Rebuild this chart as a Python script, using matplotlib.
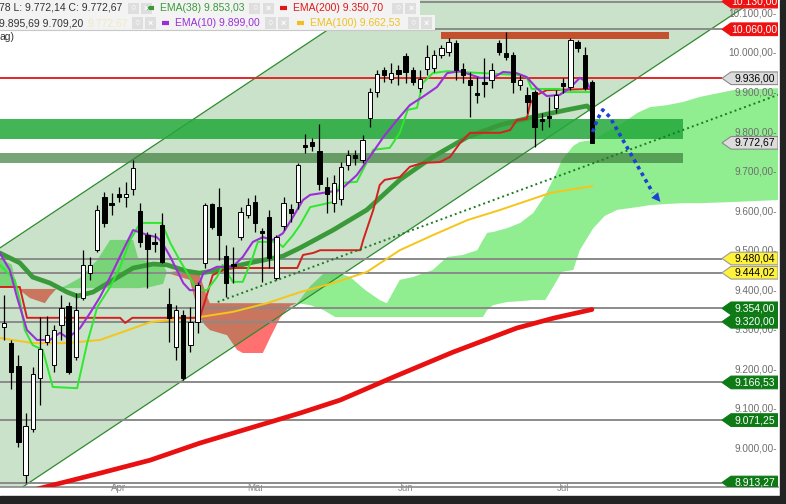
import numpy as np
import matplotlib
matplotlib.use("Agg")
import matplotlib.pyplot as plt
from matplotlib.patches import Rectangle, Polygon
from matplotlib.transforms import blended_transform_factory

plt.rcParams['font.family'] = ['Liberation Sans', 'DejaVu Sans']

# ---- daily candles, bar index 0..82 ----
opens = [9307, 9266, 9208, 8932, 9049, 9178, 9269, 9211, 9312, 9360,
         9231, 9380, 9443, 9501, 9636, 9620, 9643, 9636, 9656, 9600,
         9539, 9520, 9565, 9365, 9256, 9337, 9261, 9319, 9469, 9618,
         9610, 9486, 9466, 9534, 9590, 9623, 9550, 9585, 9431, 9562,
         9605, 9623, 9767, 9775, 9752, 9661, 9620, 9631, 9717, 9742,
         9729, 9836, 9901, 9957, 9934, 9957, 9992, 9957, 9911, 9959,
         9962, 9995, 10003, 10025, 9959, 9932, 9899, 9927, 9932, 10025,
         10000, 9995, 9919, 9894, 9901, 9833, 9840, 9861, 9924, 9914,
         10028, 9995, 9927]
highs = [9388, 9274, 9236, 9089, 9205, 9332, 9334, 9312, 9388, 9370,
         9393, 9501, 9484, 9615, 9648, 9646, 9661, 9674, 9729, 9620,
         9547, 9544, 9595, 9405, 9362, 9350, 9357, 9421, 9620, 9620,
         9658, 9514, 9509, 9610, 9633, 9641, 9557, 9603, 9539, 9636,
         9618, 9722, 9795, 9785, 9820, 9686, 9691, 9724, 9754, 9754,
         9793, 9911, 9957, 9964, 9975, 9970, 10000, 9964, 9957, 10020,
         10008, 10020, 10038, 10033, 9975, 9952, 9939, 9987, 9975, 10033,
         10053, 10002, 9944, 9914, 9906, 9848, 9889, 9906, 9937, 10038,
         10033, 10015, 9932]
lows = [9274, 9150, 9003, 8913.27, 9041, 9109, 9261, 9193, 9274, 9188,
        9223, 9375, 9426, 9496, 9560, 9590, 9623, 9610, 9641, 9509,
        9405, 9496, 9469, 9269, 9223, 9173, 9243, 9291, 9456, 9555,
        9476, 9383, 9418, 9527, 9582, 9547, 9421, 9456, 9426, 9552,
        9572, 9605, 9747, 9752, 9653, 9595, 9598, 9615, 9704, 9717,
        9722, 9813, 9889, 9927, 9924, 9919, 9924, 9919, 9901, 9944,
        9952, 9987, 9992, 9932, 9924, 9838, 9873, 9889, 9911, 9995,
        9982, 9899, 9906, 9848, 9762, 9805, 9813, 9848, 9899, 9906,
        10002, 9906, 9772.14]
closes = [9317, 9193, 9016, 9056, 9188, 9251, 9286, 9299, 9355, 9193,
          9350, 9464, 9464, 9603, 9570, 9615, 9636, 9643, 9709, 9522,
          9504, 9518, 9471, 9329, 9350, 9178, 9319, 9413, 9615, 9560,
          9539, 9418, 9461, 9598, 9615, 9570, 9544, 9481, 9534, 9620,
          9595, 9717, 9762, 9765, 9668, 9643, 9671, 9711, 9742, 9734,
          9780, 9901, 9947, 9944, 9949, 9947, 9952, 9927, 9934, 9990,
          9995, 10013, 10028, 9957, 9944, 9919, 9894, 9921, 9957, 10003,
          9990, 9927, 9932, 9876, 9813, 9828, 9835, 9894, 9916, 10033,
          10013, 9911, 9772.67]

month_idx = [16, 35, 56, 78]
month_names = ['Apr', 'Mai', 'Jun', 'Jul']

# ---- indicators (vertices at bar index) ----
ema10_idx = [-0.6, 0.8, 1.8, 3.2, 4.6, 6.4, 7.8, 8.9, 10.6, 12.0, 13.4, 14.8, 16.6, 18.0,
             20.1, 21.3, 22.0, 23.2, 24.1, 25.0, 25.9, 26.9, 27.8, 29.7, 31.9, 33.3, 34.7,
             36.1, 37.5, 38.9, 40.3, 41.7, 42.7, 44.5, 46.9, 49.2, 51.0, 52.9, 54.8, 56.6,
             58.4, 60.4, 61.8, 63.6, 66.4, 68.2, 69.6, 71.5, 72.9, 74.3, 75.7, 77.5, 78.9,
             80.3, 81.3, 82.0]
ema10_val = [9494, 9451, 9383, 9299, 9274, 9274, 9292, 9279, 9304, 9342, 9383, 9433, 9501,
             9552, 9539, 9534, 9522, 9484, 9451, 9418, 9400, 9400, 9443, 9459, 9459, 9484,
             9522, 9534, 9527, 9544, 9585, 9628, 9641, 9646, 9653, 9691, 9737, 9787, 9830,
             9868, 9889, 9914, 9949, 9954, 9937, 9937, 9952, 9949, 9939, 9911, 9891, 9894,
             9911, 9937, 9927, 9899]

ema38_idx = [-0.6, 2.2, 4.0, 6.4, 8.8, 10.2, 12.4, 14.8, 18.0, 20.8, 22.7, 25.5, 27.3, 30.1,
             34.3, 38.9, 41.3, 45.9, 50.6, 55.2, 59.8, 64.6, 69.2, 73.8, 78.5, 81.3, 82.0]
ema38_val = [9494, 9469, 9433, 9418, 9395, 9385, 9395, 9421, 9456, 9466, 9464, 9448, 9443,
             9451, 9469, 9486, 9507, 9552, 9603, 9679, 9737, 9787, 9818, 9838, 9856, 9866, 9855]

ema100_idx = [-0.6, 4.0, 8.8, 13.4, 20.4, 27.3, 31.9, 36.7, 41.3, 45.9, 50.6, 55.2, 59.8,
              64.6, 69.2, 76.2, 82.0]
ema100_val = [9279, 9266, 9266, 9274, 9319, 9332, 9345, 9367, 9395, 9418, 9446, 9501, 9539,
              9577, 9603, 9646, 9663]

ema200_idx = [-0.6, 4.0, 13.4, 20.4, 27.3, 34.3, 41.3, 46.9, 54.3, 62.6, 71.5, 76.6, 82.0]
ema200_val = [8889, 8894, 8937, 8970, 9013, 9051, 9089, 9122, 9180, 9243, 9304, 9329, 9351]

tenkan_idx = [-0.6, 1.5, 2.2, 2.9, 4.0, 5.4, 6.8, 10.2, 11.6, 13.0, 14.8, 16.2, 17.6, 19.0,
              22.0, 23.2, 24.5, 25.9, 26.9, 28.3, 29.7, 30.5, 31.9, 33.3, 34.7, 35.4, 38.1,
              38.9, 40.3, 41.3, 42.7, 45.9, 46.9, 49.2, 51.5, 53.8, 55.2, 56.3, 57.6, 58.4,
              59.8, 61.8, 63.6, 72.0, 72.9, 73.6, 77.5, 78.2, 82.0]
tenkan_val = [9464, 9426, 9375, 9299, 9261, 9249, 9155, 9152, 9266, 9357, 9408, 9459, 9527,
              9570, 9570, 9519, 9476, 9433, 9400, 9400, 9433, 9464, 9421, 9421, 9484, 9522,
              9522, 9509, 9539, 9565, 9610, 9623, 9671, 9674, 9755, 9760, 9798, 9856, 9861,
              9924, 9949, 9954, 9952, 9944, 9939, 9909, 9909, 9901, 9901]

kijun_idx = [-0.6, 2.2, 3.2, 16.2, 16.9, 17.9, 27.3, 28.3, 29.1, 31.1, 40.9, 41.7, 43.1, 44.1,
             49.7, 50.1, 51.5, 52.4, 53.1, 55.2, 56.6, 58.4, 60.8, 62.2, 63.6, 65.0, 69.2,
             70.6, 71.5, 72.9, 73.4, 74.3, 75.7, 82.0]
kijun_val = [9408, 9408, 9330, 9330, 9317, 9330, 9330, 9388, 9438, 9456, 9456, 9489, 9494,
             9501, 9501, 9527, 9603, 9666, 9679, 9686, 9712, 9722, 9724, 9737, 9772, 9798,
             9798, 9805, 9830, 9833, 9873, 9894, 9906, 9909]

cloud_idx = [-0.6, 1.1, 1.8, 2.2, 3.6, 5.7, 6.4, 7.3, 8.5, 10.6, 13.0, 14.8, 18.0, 18.7,
             20.4, 22.2, 22.7, 23.2, 25.9, 27.3, 28.0, 28.7, 31.1, 32.5, 33.3, 36.1, 37.1,
             38.5, 39.9, 40.9, 42.7, 44.5, 46.2, 48.3, 50.4, 52.4, 53.4, 55.2, 57.0, 59.8,
             61.8, 64.0, 66.0, 66.8, 67.4, 68.2, 70.2, 72.0, 73.8, 75.5, 76.9, 77.8, 79.4,
             80.3, 82.2, 83.8, 85.5, 88.3, 90.1, 92.5, 94.7, 97.1, 101.7, 108.0]
span_a = [9481, 9464, 9405, 9400, 9380, 9367, 9385, 9403, 9410, 9431, 9476, 9527, 9527, 9481,
          9471, 9464, 9446, 9441, 9426, 9330, 9312, 9299, 9286, 9249, 9241, 9241, 9279, 9330,
          9360, 9367, 9410, 9441, 9446, 9433, 9400, 9375, 9367, 9426, 9433, 9451, 9484, 9489,
          9501, 9527, 9545, 9547, 9557, 9570, 9595, 9641, 9691, 9729, 9765, 9775, 9780, 9798,
          9813, 9848, 9863, 9868, 9876, 9889, 9906, 9911]
span_b = [9408, 9408, 9405, 9403, 9403, 9403, 9403, 9403, 9405, 9405, 9405, 9405, 9405, 9405,
          9408, 9416, 9446, 9446, 9451, 9438, 9400, 9367, 9367, 9367, 9367, 9367, 9367, 9367,
          9367, 9367, 9362, 9350, 9332, 9332, 9332, 9332, 9332, 9332, 9332, 9332, 9332, 9332,
          9332, 9332, 9350, 9362, 9370, 9372, 9375, 9375, 9418, 9446, 9451, 9501, 9557, 9588,
          9603, 9610, 9615, 9618, 9620, 9620, 9623, 9628]

# ---- drawings ----
chan_idx = [-0.56, 107.95]
chan_up = [9507, 10816]
chan_low = [8864, 10173]
trend_idx = [29.8, 107.95]
trend_val = [9370, 9894]
arrow_idx = [82.1, 82.7, 83.5, 84.5, 90.5]
arrow_val = [9800, 9830, 9856, 9838, 9646]
arrow_tip = (91.8, 9618)
green_band = (9782, 9833)
gray_band = (9722, 9747)
band_end = 94.7
resist_bar = (10035, 10053)
resist_idx = (61.0, 92.8)

line_levels = [10130.0, 10060.0, 9480.04, 9444.02, 9354.0, 9320.0, 9166.53, 9071.25, 8913.27]
red_level = 9936.0
lab_levels = [10130.0, 10060.0, 9936.0, 9772.67, 9480.04, 9444.02, 9354.0, 9320.0,
              9166.53, 9071.25, 8913.27]
lab_kinds = ['red', 'red', 'gray', 'gray', 'yellow', 'yellow', 'green', 'green',
             'green', 'green', 'green']
tick_levels = list(range(10100, 8999, -100))


def de_fmt(v):
    s = f"{v:,.2f}"
    return s.replace(",", "#").replace(".", ",").replace("#", ".")


fig = plt.figure(figsize=(7.86, 5.04), dpi=100)
fig.patch.set_facecolor('white')
W, H = 778.0, 487.0
ax = fig.add_axes([0, 17 / 504, W / 786, H / 504])
ax.set_xlim(-0.56, 107.95)
ax.set_ylim(8902, 10134)
for s in ['top', 'right', 'left']:
    ax.spines[s].set_visible(False)
ax.spines['bottom'].set_color('#8a8a8a')
ax.spines['bottom'].set_linewidth(1.2)
ax.set_yticks([])
ax.set_xticks(month_idx)
ax.set_xticklabels(month_names)
ax.tick_params(axis='x', length=0, pad=-3, labelsize=7, labelcolor='#8c8c8c')

px = lambda x: x / W      # pixel -> axes fraction, for overlay boxes
py = lambda y: 1 - y / H
tr = blended_transform_factory(ax.transAxes, ax.transData)

# ichimoku cloud
ci, a, b = np.array(cloud_idx), np.array(span_a), np.array(span_b)
ax.fill_between(ci, a, b, where=a >= b, interpolate=True, color='#90ee90', lw=0, zorder=1)
ax.fill_between(ci, a, b, where=a < b, interpolate=True, color='#ff7070', lw=0, zorder=1)

# trend channel
ax.fill_between(chan_idx, chan_low, chan_up, color='#2e8b2e', alpha=0.25, lw=0, zorder=2)
ax.plot(chan_idx, chan_up, color='#2e8b2e', lw=0.9, zorder=2.1)
ax.plot(chan_idx, chan_low, color='#2e8b2e', lw=0.9, zorder=2.1)

# zones
ax.add_patch(Rectangle((-0.56, green_band[0]), band_end + 0.56, green_band[1] - green_band[0],
                       fc='#22a83a', alpha=0.85, lw=0, zorder=3))
ax.add_patch(Rectangle((-0.56, gray_band[0]), band_end + 0.56, gray_band[1] - gray_band[0],
                       fc='#3d7f3d', alpha=0.7, lw=0, zorder=3))
ax.add_patch(Rectangle((resist_idx[0], resist_bar[0]), resist_idx[1] - resist_idx[0],
                       resist_bar[1] - resist_bar[0], fc='#c4502e', lw=0, zorder=3))

# horizontal levels
ax.hlines(line_levels, -0.56, 100.1, colors='#8a8a8a', lw=1.4, zorder=3.5)
ax.hlines(red_level, -0.56, 100.1, colors='#e02828', lw=1.4, zorder=3.5)

# indicator lines
ax.plot(ema200_idx, ema200_val, color='#e81010', lw=3.4, zorder=4, solid_capstyle='round')
ax.plot(ema100_idx, ema100_val, color='#f5c518', lw=1.4, zorder=4)
ax.plot(ema38_idx, ema38_val, color='#3a9a3a', lw=3.4, zorder=4, solid_capstyle='round')
ax.plot(kijun_idx, kijun_val, color='#d42020', lw=1.4, zorder=4.2)
ax.plot(tenkan_idx, tenkan_val, color='#2ee82e', lw=1.4, zorder=4.3)
ax.plot(ema10_idx, ema10_val, color='#9b2fd6', lw=1.5, zorder=4.4)

# candles
for i, (o, h, l, c) in enumerate(zip(opens, highs, lows, closes)):
    ax.vlines(i, l, h, color='black', lw=0.9, zorder=6)
    lo_b, hi_b = min(o, c), max(o, c)
    if hi_b - lo_b < 3:
        hi_b = lo_b + 3
    ax.add_patch(Rectangle((i - 0.3, lo_b), 0.6, hi_b - lo_b,
                           fc='white' if c >= o else 'black', ec='black', lw=0.7, zorder=6.5))

# dotted trend line and projected path
ax.plot(trend_idx, trend_val, color='#1e7a1e', lw=1.4, ls=(0, (1, 1.6)), zorder=7)
ax.plot(arrow_idx, arrow_val, color='#1f3fd8', lw=2.6, ls=(0, (1, 1.1)), zorder=7)
ax.annotate('', xy=arrow_tip, xytext=(arrow_idx[-1], arrow_val[-1]),
            arrowprops=dict(arrowstyle='-|>', color='#1f3fd8', lw=0, mutation_scale=16),
            zorder=7)

# price scale labels
for v in tick_levels:
    ax.text(0.9985, v, de_fmt(v) + '-', transform=tr, ha='right', va='center',
            fontsize=7.2, color='#6e6e6e', zorder=8)

styles = {'red': ('#ee1111', '#ee1111', 'white'),
          'gray': ('#dcdcdc', '#8a8a8a', 'black'),
          'yellow': ('#fff23a', '#9a9a9a', 'black'),
          'green': ('#0e7a16', '#0e7a16', 'white')}
tip, sh, hh = px(722), px(731), 16
for lv, kind in zip(lab_levels, lab_kinds):
    fc, ec, tc = styles[kind]
    ax.add_patch(Polygon([(tip, lv), (sh, lv + hh), (1.0, lv + hh), (1.0, lv - hh), (sh, lv - hh)],
                         closed=True, transform=tr, fc=fc, ec=ec, lw=0.8, zorder=9))
    ax.text((sh + 1) / 2, lv, de_fmt(lv), transform=tr, ha='center', va='center',
            fontsize=7.5, color=tc, zorder=10)

# legend header
ax.add_patch(Rectangle((0, py(15)), px(420), 15 / H, transform=ax.transAxes,
                       fc='#f3f3f3', ec='none', zorder=11, clip_on=False))
ax.add_patch(Rectangle((0, py(29.5)), px(435), 14.5 / H, transform=ax.transAxes,
                       fc='#f3f3f3', ec='none', zorder=11, clip_on=False))
ax.plot([0, px(435)], [py(29.5)] * 2, transform=ax.transAxes, color='#c8c8c8', lw=0.8,
        zorder=11.5, clip_on=False)


def icon(xc, yc, glyph):
    ax.add_patch(Rectangle((px(xc - 5.5), py(yc + 5.5)), 11 / W, 11 / H, transform=ax.transAxes,
                           fc='#dedede', ec='none', zorder=12, clip_on=False))
    ax.text(px(xc), py(yc), glyph, transform=ax.transAxes, ha='center', va='center',
            fontsize=6.5, color='white', fontweight='bold', zorder=13)


def legend_item(x, y, label, color):
    ax.plot([px(x), px(x + 7)], [py(y)] * 2, transform=ax.transAxes, color=color, lw=3,
            solid_capstyle='butt', zorder=12, clip_on=False)
    ax.text(px(x + 13), py(y), label, transform=ax.transAxes, ha='left', va='center',
            fontsize=7.5, color=color, zorder=13)


ax.text(px(-1), py(8), "78 L: 9.772,14 C: 9.772,67", transform=ax.transAxes,
        ha='left', va='center', fontsize=7.5, color='#333333', zorder=13)
ax.text(px(-1), py(23), "9.895,69 9.709,20", transform=ax.transAxes,
        ha='left', va='center', fontsize=7.5, color='#333333', zorder=13)
ax.text(px(87), py(23), "9.772,67", transform=ax.transAxes,
        ha='left', va='center', fontsize=7.5, color='#f1e9c4', zorder=13)
ax.text(px(-1), py(37), "ag)", transform=ax.transAxes,
        ha='left', va='center', fontsize=7.5, color='#333333', zorder=13)

for xc, yc in [(133, 8), (255, 8), (398, 8), (137, 23), (270, 23), (413, 23)]:
    icon(xc, yc, '○')
    icon(xc + 13, yc, '×')

legend_item(147, 8, "EMA(38) 9.853,03", '#3a9a3a')
legend_item(280, 8, "EMA(200) 9.350,70", '#e01818')
legend_item(162, 23, "EMA(10) 9.899,00", '#9b2fd6')
legend_item(297, 23, "EMA(100) 9.662,53", '#f0c020')

# window frame
fig.add_artist(Rectangle((0, 0), 1, 8 / 504, transform=fig.transFigure, color='#232323'))
fig.add_artist(Rectangle((780 / 786, 0), 6 / 786, 1, transform=fig.transFigure, color='#232323'))

fig.savefig('out.png', dpi=100)
